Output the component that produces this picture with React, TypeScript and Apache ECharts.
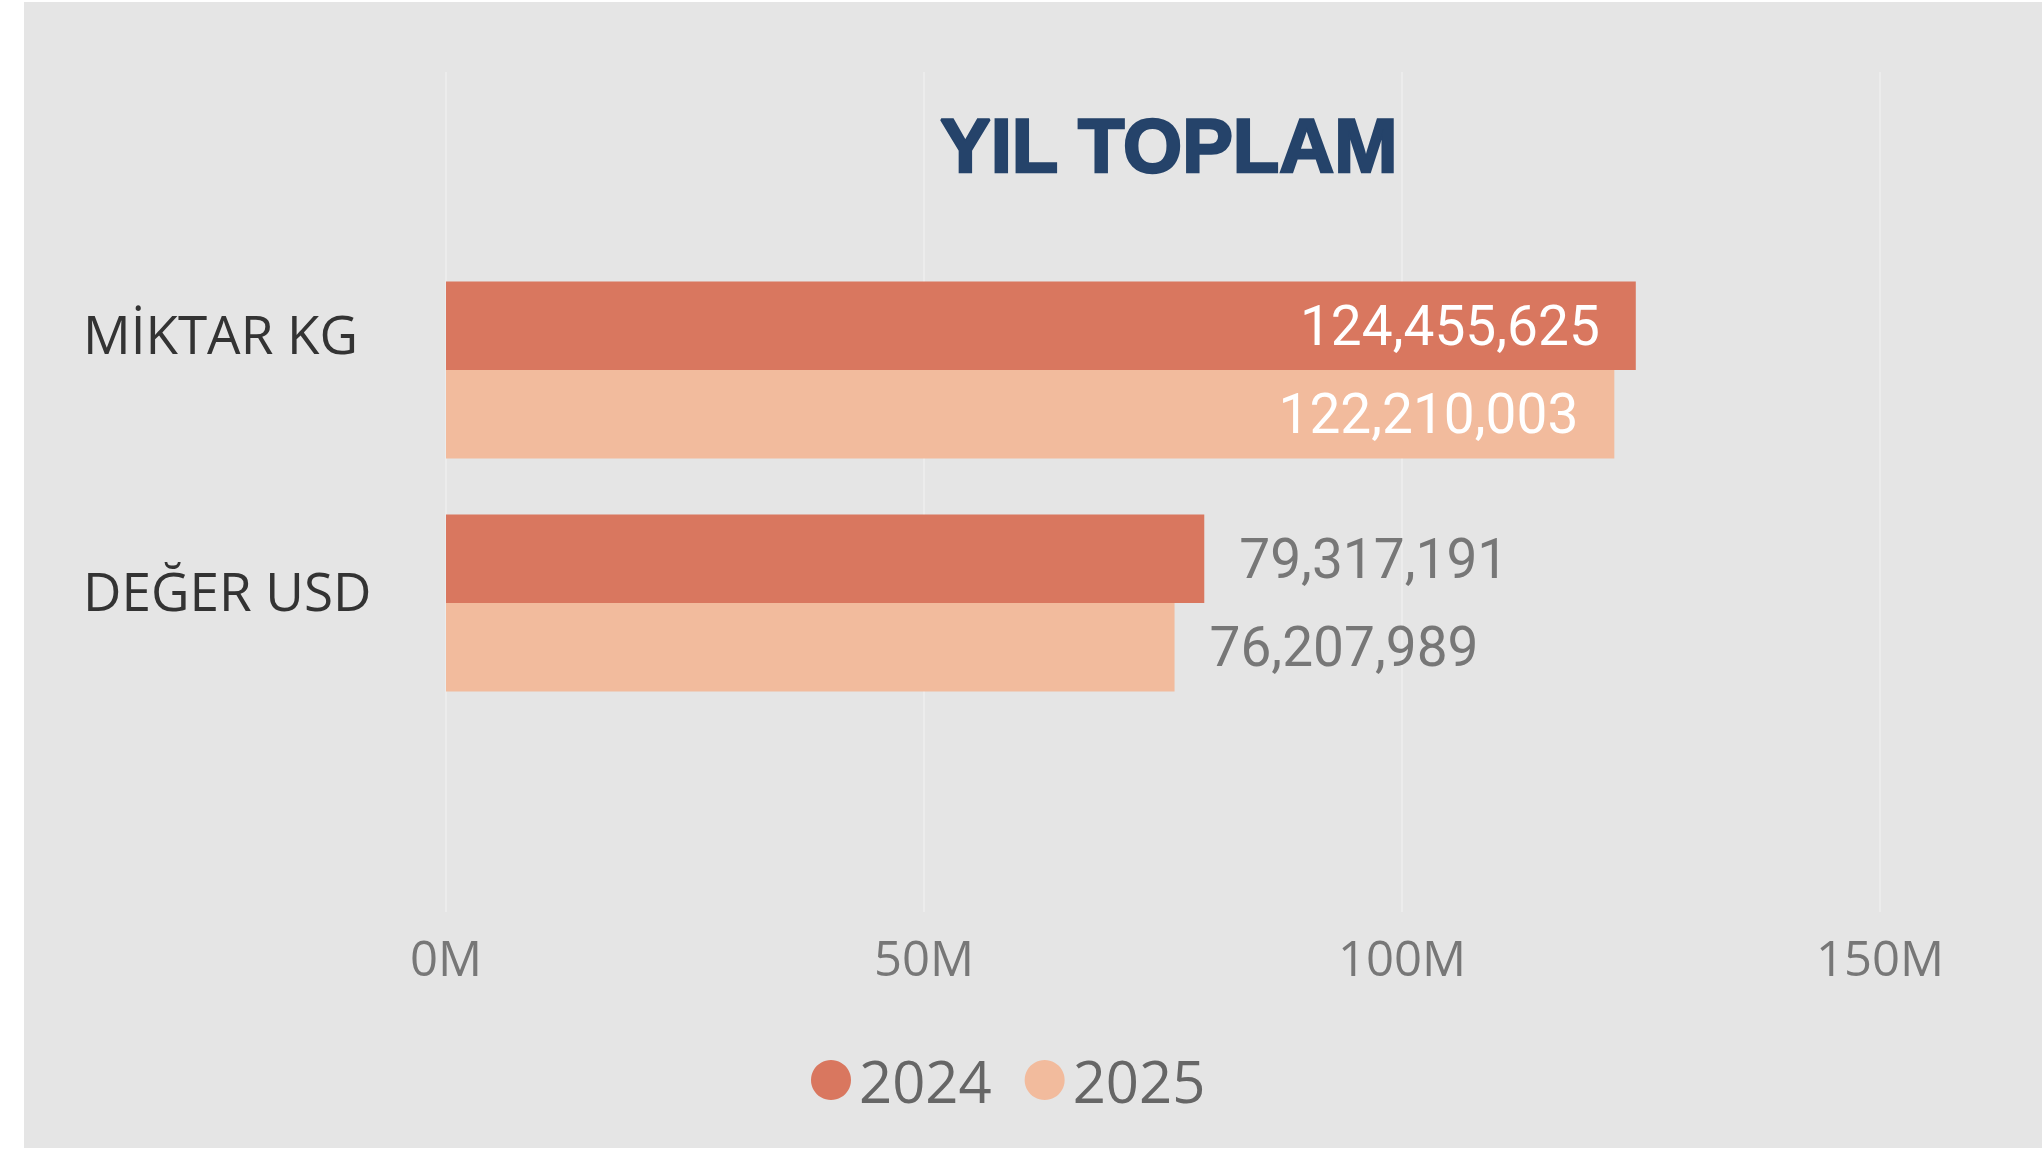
import React, { useEffect, useRef } from "react";
import * as echarts from "echarts";

const categories = ["MİKTAR KG", "DEĞER USD"];
const seriesNames = ["2024", "2025"];
const values2024 = [124455625, 79317191];
const values2025 = [122210003, 76207989];
const labelInside = [true, false];
const xTicks = { min: 0, max: 150000000, interval: 50000000 };
const colors = ["#d9775f", "#f2bb9d"];

export default function App() {
  const ref = useRef<HTMLDivElement>(null);
  useEffect(() => {
    document.body.style.margin = "0";
    const chart = echarts.init(ref.current!, null, { renderer: "svg" });
    const mkData = (vals: number[]) =>
      vals.map((v, i) => ({
        value: v,
        label: labelInside[i]
          ? { position: "insideRight", distance: 36, color: "#ffffff" }
          : { position: "right", distance: 35, color: "#777777" },
      }));
    const allSeries = [values2024, values2025].map((vals, si) => ({
      name: seriesNames[si],
      type: "bar",
      xAxisIndex: 0,
      yAxisIndex: 0,
      barWidth: 88.5,
      barGap: "0%",
      itemStyle: { color: colors[si] },
      label: {
        show: true,
        fontFamily: "Roboto",
        fontSize: 55,
        formatter: (p: any) => Number(p.value).toLocaleString("en-US"),
      },
      data: mkData(vals),
    }));
    chart.setOption({
      animation: false,
      backgroundColor: "#ffffff",
      color: colors,
      graphic: [
        {
          type: "rect",
          z: -100,
          shape: { x: 24, y: 2, width: 2018, height: 1146 },
          style: { fill: "#e5e5e5" },
        },
      ],
      title: {
        text: "YIL TOPLAM",
        left: 935,
        top: 102,
        textStyle: {
          fontFamily: "Liberation Sans",
          fontWeight: "bold",
          fontSize: 76,
          color: "#25436a",
          textBorderColor: "#25436a",
          textBorderWidth: 2.5,
        },
      },
      legend: {
        data: seriesNames,
        icon: "circle",
        left: 806,
        top: 1046,
        itemWidth: 40,
        itemHeight: 40,
        itemGap: 33,
        textStyle: {
          fontFamily: "Open Sans",
          fontSize: 58,
          lineHeight: 58,
          color: "#666666",
          padding: [0, 0, 0, 3],
        },
      },
      grid: [
        { left: 446, right: 162, top: 253.5, bottom: 1149 - 719.5 },
        { left: 446, right: 162, top: 72, bottom: 237 },
      ],
      xAxis: [
        {
          gridIndex: 0,
          type: "value",
          ...xTicks,
          show: false,
          splitLine: { show: false },
        },
        {
          gridIndex: 1,
          type: "value",
          ...xTicks,
          axisLine: { show: false },
          axisTick: { show: false },
          splitLine: { show: true, lineStyle: { color: "#ececec", width: 2 } },
          axisLabel: {
            margin: 20,
            fontFamily: "Open Sans",
            fontSize: 49,
            color: "#777777",
            formatter: (v: number) => v / 1000000 + "M",
          },
        },
      ],
      yAxis: [
        {
          gridIndex: 0,
          type: "category",
          data: categories,
          inverse: true,
          axisLine: { show: false },
          axisTick: { show: false },
          splitLine: { show: false },
          axisLabel: {
            align: "left",
            margin: 363,
            fontFamily: "Open Sans",
            fontSize: 53,
            color: "#333333",
            formatter: (v: string, i: number) => (i === 0 ? `{a|${v}}` : `{b|${v}}`),
            rich: {
              a: { fontFamily: "Open Sans", fontSize: 53, color: "#333333", padding: [0, 0, 74, 0] },
              b: { fontFamily: "Open Sans", fontSize: 53, color: "#333333", padding: [0, 0, 26, 0] },
            },
          },
        },
        { gridIndex: 1, type: "value", show: false, splitLine: { show: false } },
      ],
      series: allSeries,
    });
    return () => chart.dispose();
  }, []);
  return <div ref={ref} style={{ width: 2042, height: 1149 }} />;
}
